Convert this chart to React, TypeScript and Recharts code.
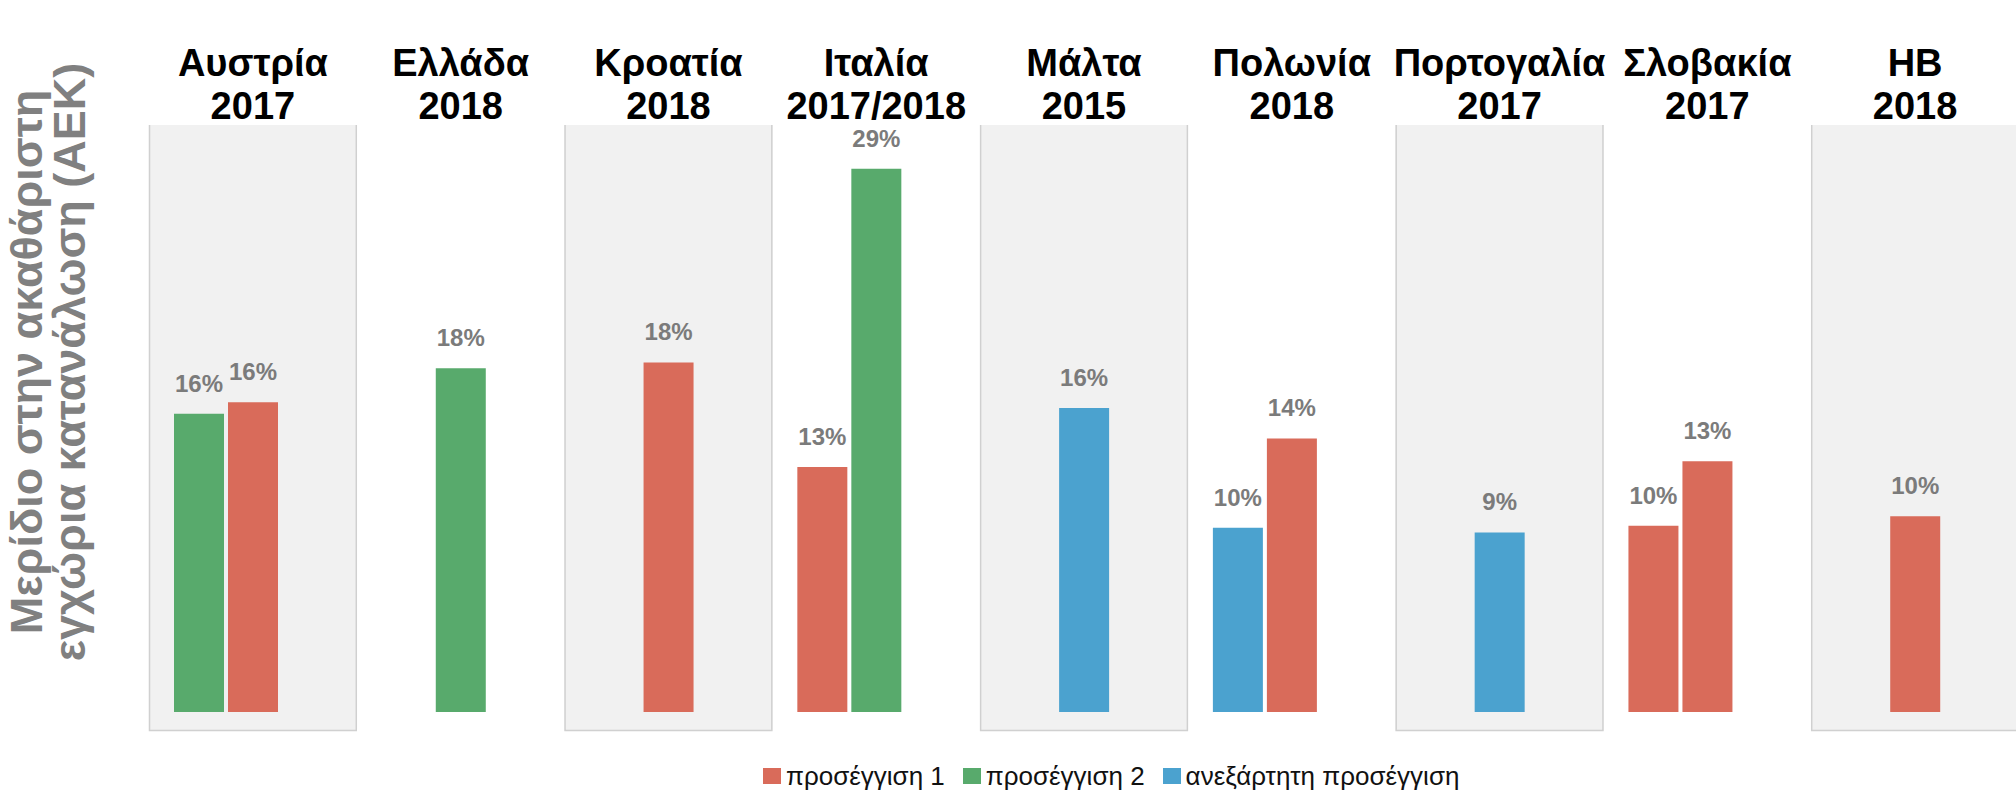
import React from 'react';
import { BarChart, Bar, XAxis, YAxis, Cell, LabelList, ReferenceArea, Legend } from 'recharts';

// Column headings (country / reference year)
const countries = ['Αυστρία', 'Ελλάδα', 'Κροατία', 'Ιταλία', 'Μάλτα', 'Πολωνία', 'Πορτογαλία', 'Σλοβακία', 'ΗΒ'];
const years = ['2017', '2018', '2018', '2017/2018', '2015', '2018', '2017', '2017', '2018'];

// First bar of each column (empty where the column holds a single bar)
const firstBarValues: (number | null)[] = [15.7, null, null, 12.9, null, 9.7, null, 9.8, null];
const firstBarApproach: (string | null)[] = ['p2', null, null, 'p1', null, 'ind', null, 'p1', null];

// Second bar of each column
const secondBarValues: (number | null)[] = [16.3, 18.1, 18.4, 28.6, 16.0, 14.4, 9.45, 13.2, 10.3];
const secondBarApproach: (string | null)[] = ['p1', 'p2', 'p1', 'p2', 'ind', 'p1', 'ind', 'p1', 'p1'];

// Shaded background columns
const shadedColumns = [true, false, true, false, true, false, true, false, true];

// Series (legend)
const seriesKeys = ['p1', 'p2', 'ind'];
const seriesNames: Record<string, string> = {
  p1: 'προσέγγιση 1',
  p2: 'προσέγγιση 2',
  ind: 'ανεξάρτητη προσέγγιση',
};
const seriesColors: Record<string, string> = {
  p1: '#d96b5a',
  p2: '#58aa6c',
  ind: '#4ba2cf',
};

const yTitleLines = ['Μερίδιο στην ακαθάριστη', 'εγχώρια κατανάλωση (ΑΕΚ)'];

const data = countries.map((country, i) => ({
  country,
  year: years[i],
  first: firstBarValues[i],
  second: secondBarValues[i],
  third: null as number | null,
}));

const FONT = "'Liberation Sans', Arial, Helvetica, sans-serif";

const HeadingTick = (props: any) => {
  const { x, y, payload } = props;
  const i = payload.index;
  return (
    <g>
      <text x={x} y={y - 49} textAnchor="middle" fontFamily={FONT} fontWeight={700} fontSize={38} fill="#000">
        {countries[i]}
      </text>
      <text x={x} y={y - 6} textAnchor="middle" fontFamily={FONT} fontWeight={700} fontSize={38} fill="#000">
        {years[i]}
      </text>
    </g>
  );
};

const ValueLabel = (props: any) => {
  const { x, y, width, value } = props;
  if (value === null || value === undefined) return null;
  return (
    <text
      x={Number(x) + Number(width) / 2}
      y={Number(y) - 22}
      textAnchor="middle"
      fontFamily={FONT}
      fontWeight={700}
      fontSize={24}
      fill="#7b7b7b"
    >
      {Math.round(Number(value))}%
    </text>
  );
};

const PanelShape = (props: any) => {
  const { x, y, width, height } = props;
  return (
    <g>
      <rect x={x} y={y} width={width} height={height} fill="#f1f1f1" />
      <path
        d={`M${x + 0.5},${y} L${x + 0.5},${y + height - 0.5} L${x + width - 0.5},${y + height - 0.5} L${x + width - 0.5},${y}`}
        fill="none"
        stroke="#d0d0d0"
        strokeWidth={1.5}
      />
    </g>
  );
};

const YTitle = (props: any) => {
  const vb = props.viewBox || { x: 0, y: 0, width: 0, height: 0 };
  const cy = vb.y + vb.height / 2 - 66;
  return (
    <g>
      <text
        transform={`translate(42, ${cy}) rotate(-90)`}
        textAnchor="middle"
        fontFamily={FONT}
        fontWeight={700}
        fontSize={45}
        fill="#808080"
      >
        {yTitleLines[0]}
      </text>
      <text
        transform={`translate(85, ${cy}) rotate(-90)`}
        textAnchor="middle"
        fontFamily={FONT}
        fontWeight={700}
        fontSize={45}
        fill="#808080"
      >
        {yTitleLines[1]}
      </text>
    </g>
  );
};

const LegendContent = () => (
  <div
    style={{
      height: 62,
      boxSizing: 'border-box',
      paddingTop: 30,
      paddingLeft: 763,
      display: 'flex',
      alignItems: 'flex-start',
      fontFamily: FONT,
    }}
  >
    {seriesKeys.map((k) => (
      <div key={k} style={{ display: 'flex', alignItems: 'center', height: 30, marginRight: 18 }}>
        <div style={{ width: 18, height: 16, background: seriesColors[k], marginRight: 5 }} />
        <span style={{ fontSize: 26, lineHeight: '30px', color: '#111', whiteSpace: 'nowrap' }}>{seriesNames[k]}</span>
      </div>
    ))}
  </div>
);

export default function App() {
  return (
    <div style={{ position: 'absolute', left: 0, top: 0, width: 2016, height: 793, overflow: 'hidden', background: '#fff' }}>
      <BarChart
        width={2024}
        height={793}
        data={data}
        margin={{ top: 0, right: 5, bottom: 0, left: 0 }}
        barSize={50}
        barGap={4}
      >
        <XAxis
          dataKey="country"
          orientation="top"
          height={125}
          interval={0}
          tickLine={false}
          axisLine={false}
          tickSize={0}
          tickMargin={0}
          tick={<HeadingTick />}
        />
        <YAxis
          type="number"
          domain={[-1, 30.9]}
          allowDataOverflow
          width={149}
          tick={false}
          tickLine={false}
          axisLine={false}
          label={{ content: <YTitle /> } as any}
        />
        {countries.map((c, i) =>
          shadedColumns[i] ? (
            <ReferenceArea key={c} x1={c} x2={c} shape={<PanelShape />} ifOverflow="visible" />
          ) : null
        )}
        <Legend verticalAlign="bottom" content={<LegendContent />} />
        <Bar dataKey="first" isAnimationActive={false}>
          {data.map((d, i) => (
            <Cell key={d.country} fill={firstBarApproach[i] ? seriesColors[firstBarApproach[i] as string] : 'transparent'} />
          ))}
          <LabelList dataKey="first" content={<ValueLabel />} />
        </Bar>
        <Bar dataKey="second" isAnimationActive={false}>
          {data.map((d, i) => (
            <Cell key={d.country} fill={secondBarApproach[i] ? seriesColors[secondBarApproach[i] as string] : 'transparent'} />
          ))}
          <LabelList dataKey="second" content={<ValueLabel />} />
        </Bar>
        <Bar dataKey="third" isAnimationActive={false} legendType="none" />
      </BarChart>
    </div>
  );
}
